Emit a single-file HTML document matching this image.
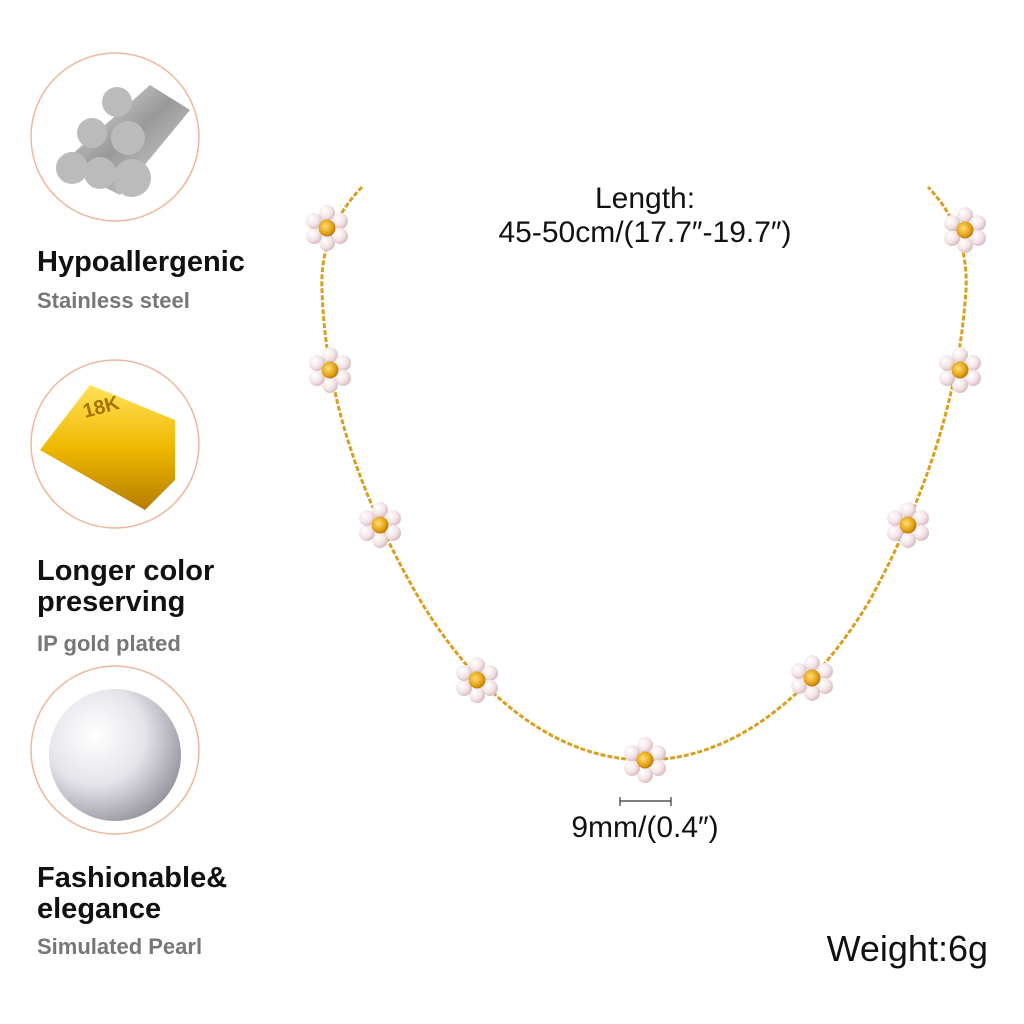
<!DOCTYPE html>
<html><head><meta charset="utf-8"><style>
body{margin:0;width:1024px;height:1024px;background:#fff;position:relative;overflow:hidden;font-family:"Liberation Sans",sans-serif}
.t{position:absolute;left:37px;font-weight:bold;font-size:29px;color:#111;line-height:31px}
.s{position:absolute;left:37px;font-size:22px;color:#777;font-weight:bold}
.m{position:absolute;font-size:30px;color:#111;text-align:center}
</style></head><body>
<svg width="1024" height="1024" style="position:absolute;left:0;top:0">
<defs>
<radialGradient id="pe" cx="0.35" cy="0.35" r="0.7"><stop offset="0" stop-color="#fff"/><stop offset="0.6" stop-color="#f3e4e6"/><stop offset="1" stop-color="#d5b9be"/></radialGradient>
<radialGradient id="go" cx="0.4" cy="0.4" r="0.7"><stop offset="0" stop-color="#ffe070"/><stop offset="0.6" stop-color="#e3a21a"/><stop offset="1" stop-color="#a86a00"/></radialGradient>
<radialGradient id="bp" cx="0.35" cy="0.35" r="0.75"><stop offset="0" stop-color="#fff"/><stop offset="0.5" stop-color="#e6e4ea"/><stop offset="1" stop-color="#8d8a95"/></radialGradient>
<linearGradient id="gb" x1="0" y1="0" x2="0" y2="1"><stop offset="0" stop-color="#ffe25a"/><stop offset="0.5" stop-color="#f0b800"/><stop offset="1" stop-color="#b57d00"/></linearGradient>
<linearGradient id="st" x1="0" y1="0" x2="1" y2="1"><stop offset="0" stop-color="#eee"/><stop offset="0.5" stop-color="#999"/><stop offset="1" stop-color="#ddd"/></linearGradient>
<g id="fl">
<circle cx="0" cy="-15" r="8" fill="url(#pe)"/><circle cx="13" cy="-7" r="8" fill="url(#pe)"/><circle cx="13" cy="8" r="8" fill="url(#pe)"/><circle cx="0" cy="15" r="8" fill="url(#pe)"/><circle cx="-13" cy="8" r="8" fill="url(#pe)"/><circle cx="-13" cy="-7" r="8" fill="url(#pe)"/>
<circle cx="0" cy="0" r="8.5" fill="url(#go)"/></g>
</defs>
<circle cx="115" cy="137" r="84" fill="#fff" stroke="#f0b89a" stroke-width="1.5"/>
<circle cx="115" cy="444" r="84" fill="#fff" stroke="#f0b89a" stroke-width="1.5"/>
<circle cx="115" cy="750" r="84" fill="#fff" stroke="#f0b89a" stroke-width="1.5"/>
<g fill="url(#st)"><path d="M60 165 L150 85 L190 110 L120 195Z"/>
<circle cx="72" cy="168" r="16" fill="#bbb"/><circle cx="100" cy="173" r="16" fill="#bbb"/><circle cx="132" cy="178" r="19" fill="#bbb"/><circle cx="92" cy="133" r="15" fill="#bbb"/><circle cx="128" cy="138" r="17" fill="#bbb"/><circle cx="117" cy="102" r="15" fill="#bbb"/></g>
<path d="M40 450 L90 385 L175 420 L175 480 L145 510 Z" fill="url(#gb)"/>
<text x="85" y="418" font-family="Liberation Sans" font-weight="bold" font-size="20" fill="#a57400" transform="rotate(-15 85 418)">18K</text>
<circle cx="115" cy="755" r="66" fill="url(#bp)"/>
<path d="M362 187 C335 215 320 250 322 290 C325 380 350 480 420 600 C480 700 560 760 645 760 C730 760 810 700 870 600 C935 480 960 380 966 290 C968 250 955 215 928 187" fill="none" stroke="#d9a020" stroke-width="3" stroke-dasharray="5 2"/>
<use href="#fl" x="327" y="228"/><use href="#fl" x="330" y="370"/><use href="#fl" x="380" y="525"/><use href="#fl" x="477" y="680"/><use href="#fl" x="645" y="760"/><use href="#fl" x="812" y="678"/><use href="#fl" x="908" y="525"/><use href="#fl" x="960" y="370"/><use href="#fl" x="965" y="230"/>
<path d="M620 797 V806 M620 801 H671 M671 797 V806" stroke="#333" stroke-width="1.2" fill="none"/>
</svg>
<div class="t" style="top:247px">Hypoallergenic</div>
<div class="s" style="top:288px">Stainless steel</div>
<div class="t" style="top:556px">Longer color<br>preserving</div>
<div class="s" style="top:631px">IP gold plated</div>
<div class="t" style="top:863px">Fashionable&amp;<br>elegance</div>
<div class="s" style="top:934px">Simulated Pearl</div>
<div class="m" style="left:440px;width:410px;top:182px;line-height:34px">Length:<br>45-50cm/(17.7″-19.7″)</div>
<div class="m" style="left:540px;width:210px;top:811px">9mm/(0.4″)</div>
<div class="m" style="top:928px;font-size:36px;text-align:right;right:36px">Weight:6g</div>
</body></html>
